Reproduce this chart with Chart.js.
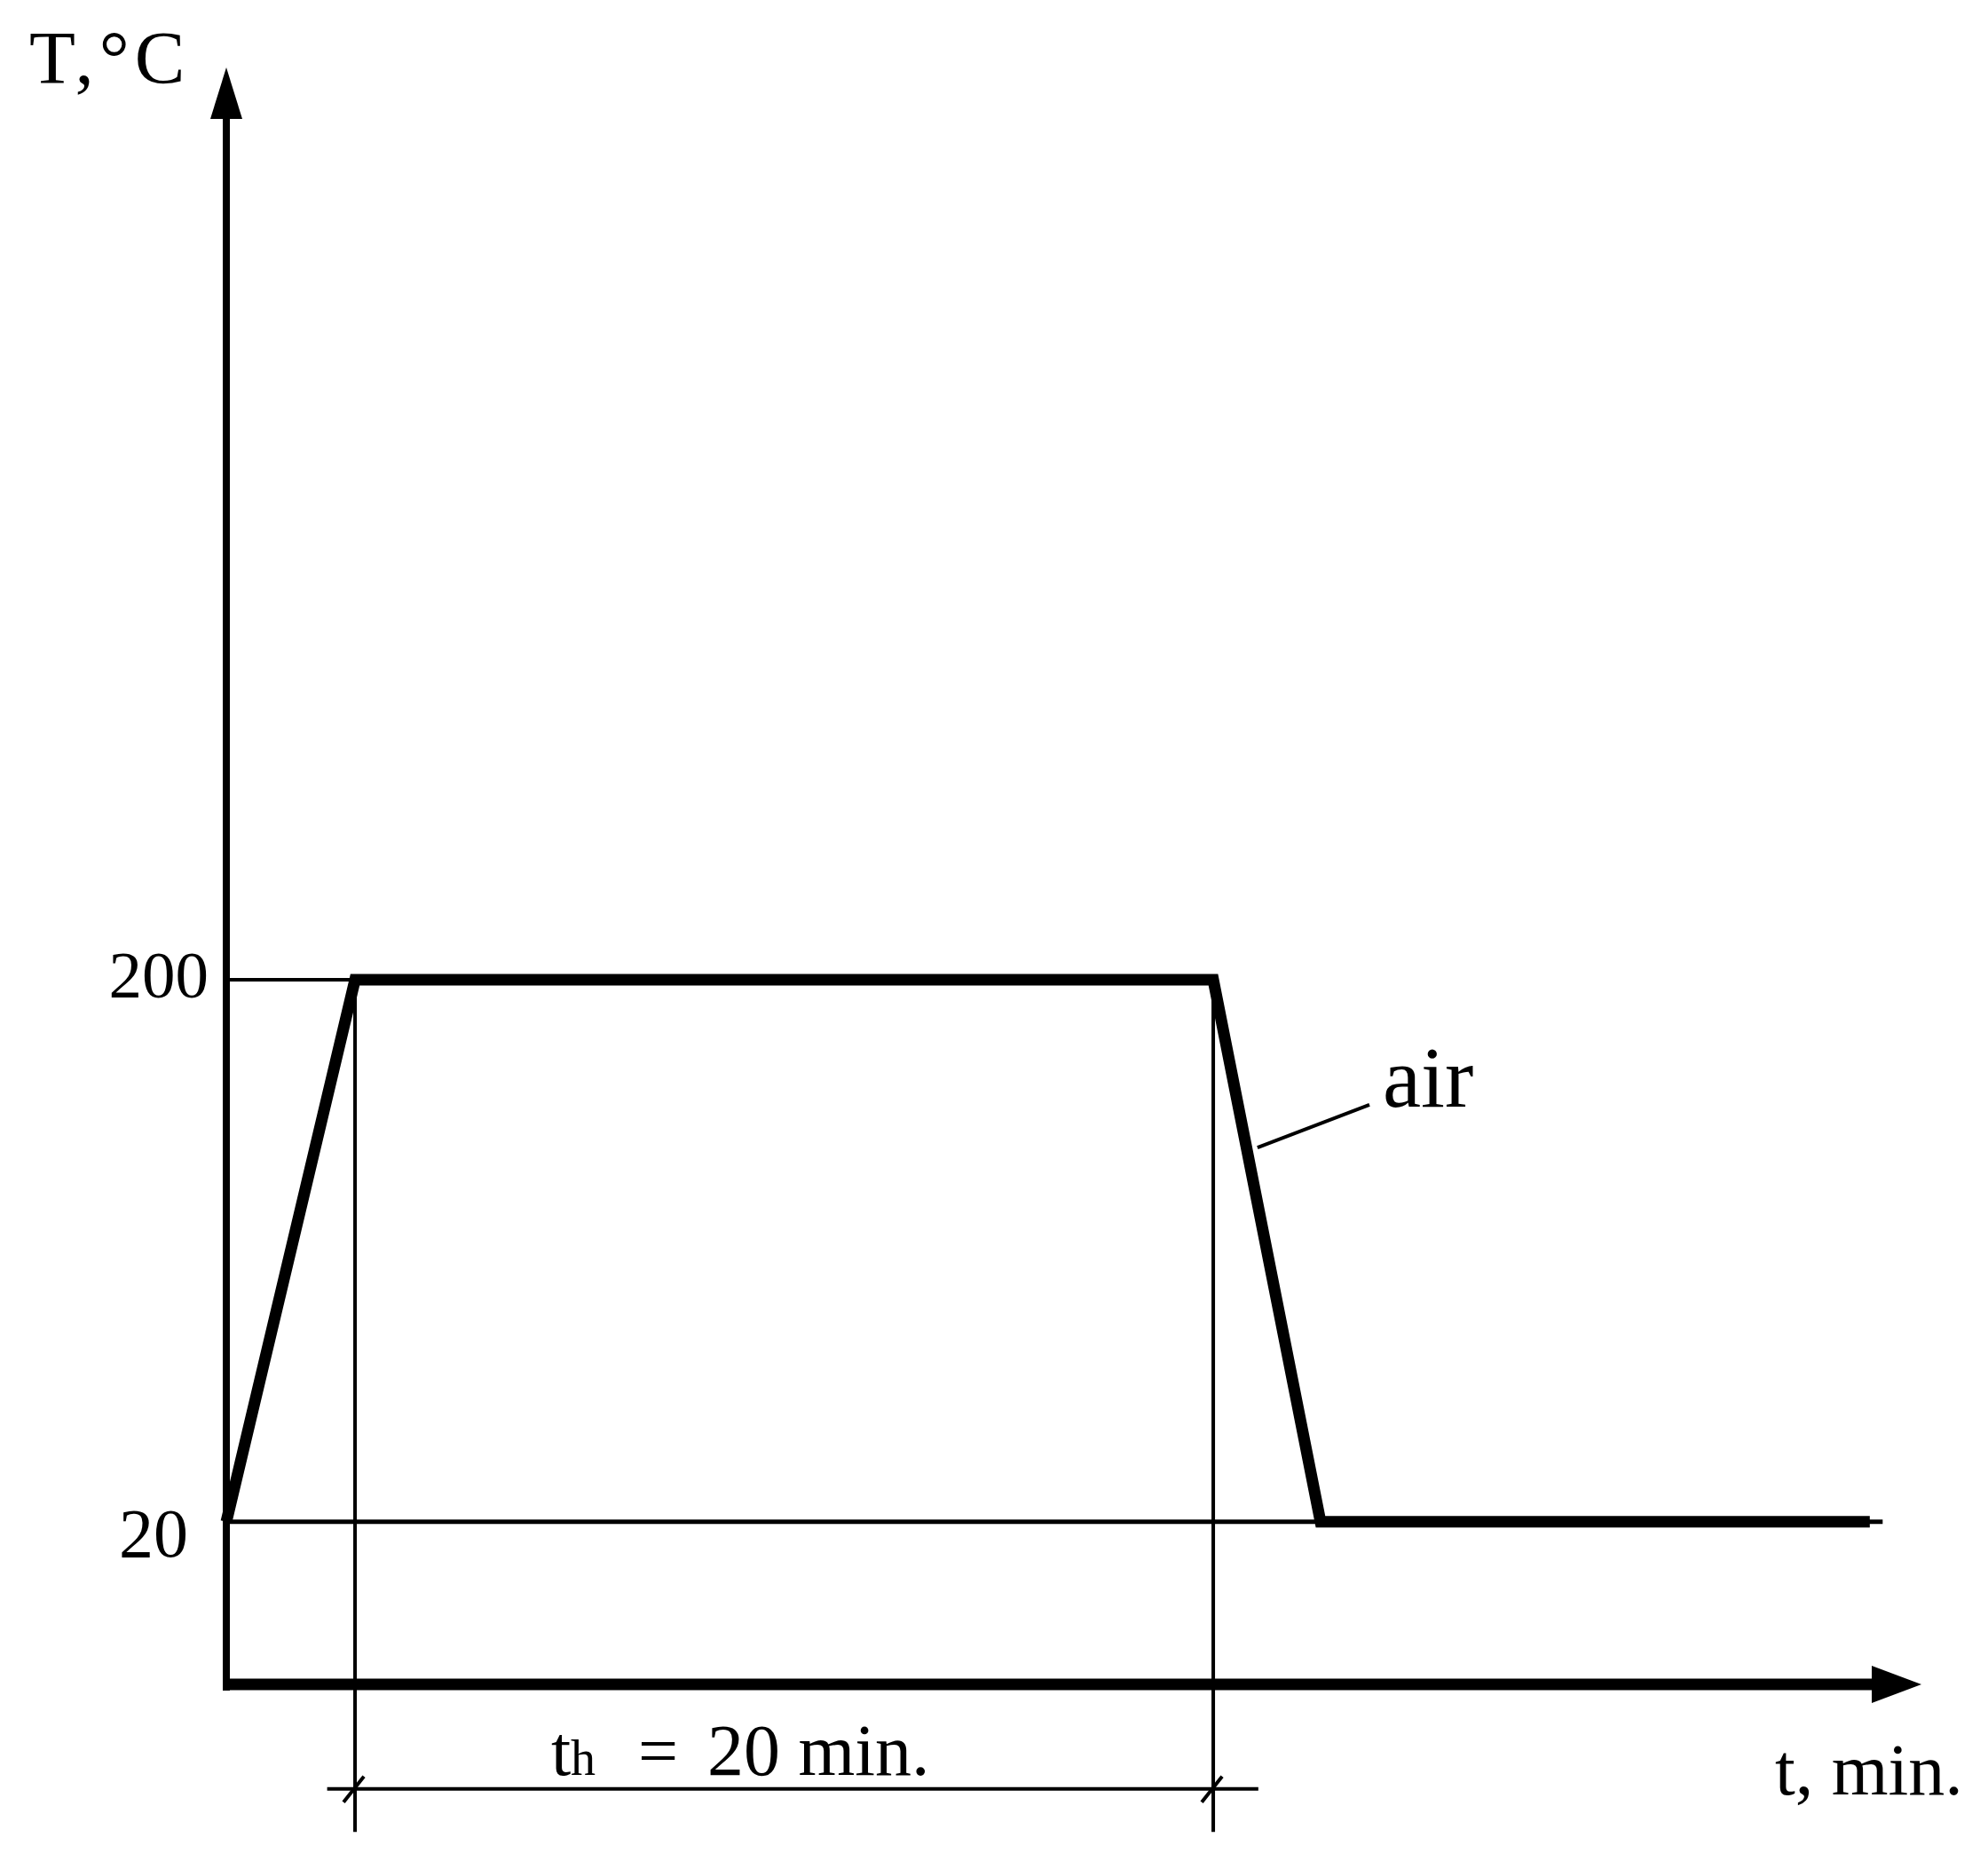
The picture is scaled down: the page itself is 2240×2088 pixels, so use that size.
<!DOCTYPE html>
<html>
<head>
<meta charset="utf-8">
<title>Heat treatment cycle</title>
<script src="https://cdn.jsdelivr.net/npm/chart.js@4/dist/chart.umd.min.js"></script>
<style>
  html, body { margin: 0; padding: 0; background: #fff; }
  canvas { display: block; }
</style>
</head>
<body>
<canvas id="cycle" width="2240" height="2088"></canvas>
<script>
// cycle: heat up, hold 20 min at 200 °C, cool in air back to 20 °C
const timeMin = [0, 3, 23, 25.5, 38.3];
const tempC = [20, 200, 200, 20, 20];

const tempTicks = [20, 200];
const tempTickLabels = ['20', '200'];

const holdStart = 3;
const holdEnd = 23;
const holdLabel = ['t', 'h', '=', '20 min.'];

// helper lines (data units)
const roomLineEnd = 38.6;
const dimLevel = -68.7;
const dimFrom = 2.35;
const dimTo = 24.05;
const extLow = -83;
const leaderT = [24.03, 26.64];
const leaderTemp = [144.3, 158.5];

const axisRangeT = [0, 40];
const axisRangeTemp = [-34, 503];

const serif = '"Liberation Serif", "DejaVu Serif", serif';

function pts(xs, ys) {
    return xs.map((x, i) => ({ x: x, y: ys[i] }));
}

function thin(data, w) {
    return {
        data: data,
        borderColor: '#000',
        borderWidth: w || 4,
        pointRadius: 0,
        tension: 0,
        clip: false,
        borderCapStyle: 'butt'
    };
}

// axes with arrows, tick labels, annotations
const sketchPlugin = {
    id: 'sketch',
    afterDatasetsDraw(chart) {
        const ctx = chart.ctx;
        const xs = chart.scales.x;
        const ys = chart.scales.y;
        const left = xs.getPixelForValue(axisRangeT[0]);
        const right = xs.getPixelForValue(axisRangeT[1]);
        const top = ys.getPixelForValue(axisRangeTemp[1]);
        const bottom = ys.getPixelForValue(axisRangeTemp[0]);

        ctx.save();
        ctx.fillStyle = '#000';
        ctx.strokeStyle = '#000';
        ctx.lineCap = 'butt';

        // y axis
        ctx.lineWidth = 8;
        ctx.beginPath();
        ctx.moveTo(left, bottom + 7);
        ctx.lineTo(left, top + 40);
        ctx.stroke();
        ctx.beginPath();
        ctx.moveTo(left, top);
        ctx.lineTo(left - 18, top + 58);
        ctx.lineTo(left + 18, top + 58);
        ctx.closePath();
        ctx.fill();

        // x axis
        ctx.lineWidth = 13;
        ctx.beginPath();
        ctx.moveTo(left - 4, bottom);
        ctx.lineTo(right - 60, bottom);
        ctx.stroke();
        ctx.beginPath();
        ctx.moveTo(right - 24, bottom);
        ctx.lineTo(right - 80, bottom - 21);
        ctx.lineTo(right - 80, bottom + 21);
        ctx.closePath();
        ctx.fill();

        // dimension ticks
        ctx.lineWidth = 4;
        const dy = ys.getPixelForValue(dimLevel);
        [holdStart, holdEnd].forEach(t => {
            const px = xs.getPixelForValue(t);
            ctx.beginPath();
            ctx.moveTo(px - 13, dy + 15);
            ctx.lineTo(px + 10, dy - 14);
            ctx.stroke();
        });

        ctx.textBaseline = 'alphabetic';

        // axis titles
        ctx.font = '85px ' + serif;
        ctx.textAlign = 'left';
        ctx.letterSpacing = '6px';
        ctx.fillText('T,°C', left - 222, top + 18);
        ctx.letterSpacing = '0px';
        ctx.font = '82px ' + serif;
        ctx.fillText('t, min.', left + 1745, bottom + 124);

        // temperature levels
        ctx.textAlign = 'right';
        const tickSize = [78, 75];
        const tickGap = [43, 20];
        const tickDrop = [39, 20];
        tempTicks.forEach((v, i) => {
            ctx.font = tickSize[i] + 'px ' + serif;
            ctx.fillText(tempTickLabels[i], left - tickGap[i], ys.getPixelForValue(v) + tickDrop[i]);
        });

        // holding time label
        ctx.textAlign = 'left';
        const hx = xs.getPixelForValue(holdStart);
        const hy = dy - 16;
        ctx.font = '80px ' + serif;
        ctx.fillText(holdLabel[0], hx + 221, hy);
        ctx.font = '56px ' + serif;
        ctx.fillText(holdLabel[1], hx + 243, hy);
        ctx.font = '80px ' + serif;
        ctx.fillText(holdLabel[2], hx + 319, hy);
        ctx.font = '82px ' + serif;
        ctx.fillText(holdLabel[3], hx + 397, hy);

        // cooling medium
        ctx.font = '97px ' + serif;
        ctx.fillText('air', xs.getPixelForValue(leaderT[1]) + 15, ys.getPixelForValue(leaderTemp[1]) + 2);

        ctx.restore();
    }
};

new Chart(document.getElementById('cycle'), {
    type: 'line',
    data: {
        datasets: [
            thin(pts([0, roomLineEnd], [20, 20]), 5),
            thin(pts([0, holdStart], [200, 200])),
            thin(pts([holdStart, holdStart], [200, extLow])),
            thin(pts([holdEnd, holdEnd], [200, extLow])),
            thin(pts([dimFrom, dimTo], [dimLevel, dimLevel])),
            thin(pts(leaderT, leaderTemp)),
            {
                data: pts(timeMin, tempC),
                borderColor: '#000',
                borderWidth: 13,
                borderJoinStyle: 'miter',
                borderCapStyle: 'butt',
                pointRadius: 0,
                tension: 0,
                clip: false
            }
        ]
    },
    options: {
        responsive: false,
        animation: false,
        events: [],
        layout: { padding: { left: 255, right: 51, top: 76, bottom: 190 } },
        plugins: {
            legend: { display: false },
            tooltip: { enabled: false }
        },
        scales: {
            x: { type: 'linear', display: false, min: axisRangeT[0], max: axisRangeT[1] },
            y: { type: 'linear', display: false, min: axisRangeTemp[0], max: axisRangeTemp[1] }
        }
    },
    plugins: [sketchPlugin]
});
</script>
</body>
</html>
